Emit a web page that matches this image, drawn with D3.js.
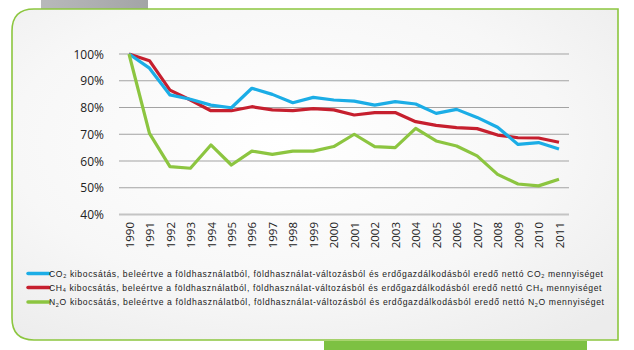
<!DOCTYPE html>
<html><head><meta charset="utf-8">
<script src="https://cdn.jsdelivr.net/npm/d3@7"></script>
<style>body{margin:0;background:#fff;}svg{display:block;}</style>
</head><body>
<svg id="c" width="634" height="350"></svg>
<script>
const years = ["1990","1991","1992","1993","1994","1995","1996","1997","1998","1999","2000","2001","2002","2003","2004","2005","2006","2007","2008","2009","2010","2011"];
const co2 = [100,94.7,84.7,83.1,80.9,79.9,87.2,84.9,81.8,83.8,82.8,82.4,80.9,82.2,81.3,77.8,79.3,76.3,72.6,66.2,66.9,64.5];
const ch4 = [100,97.5,86.5,82.8,78.8,78.8,80.3,79.1,78.8,79.6,79.1,77.2,78.1,78.1,74.7,73.3,72.5,72.1,69.7,68.7,68.6,67.0];
const n2o = [100,70.3,57.9,57.3,66.0,58.5,63.7,62.5,63.7,63.7,65.4,70.0,65.4,65.0,72.2,67.5,65.6,61.9,55.0,51.4,50.7,53.2];
const yTicks = [40,50,60,70,80,90,100];
const legendPre = ["CO","CH","N"];
const legendSub = ["2","4","2"];
const legendMid = ["","","O"];
const legendRest = " kibocsátás, beleértve a földhasználatból, földhasználat-változásból és erdőgazdálkodásból eredő nettó ";
const legendTail = " mennyiséget";
const colors = ["#1bade6","#c61f2e","#8cc540"];

const svg = d3.select("#c");
const defs = svg.append("defs");
const bg = defs.append("radialGradient").attr("id","bg").attr("cx","0.45").attr("cy","0.4").attr("r","0.75");
bg.append("stop").attr("offset","0").attr("stop-color","#ffffff");
bg.append("stop").attr("offset","0.6").attr("stop-color","#f7f7f7");
bg.append("stop").attr("offset","1").attr("stop-color","#ececec");
const tab = defs.append("linearGradient").attr("id","tab").attr("x1","0").attr("x2","1");
tab.append("stop").attr("offset","0").attr("stop-color","#b8b9bb");
tab.append("stop").attr("offset","1").attr("stop-color","#a3a4a6");

// gray tab
svg.append("rect").attr("x",41).attr("y",0).attr("width",107).attr("height",9).attr("fill","url(#tab)");
// bottom green bar
svg.append("rect").attr("x",324).attr("y",341).attr("width",263).attr("height",9).attr("fill","#7dc142");
// frame
const L=12,T=9,R=618,B=340,r=22;
const framePath = `M${R},${T} L${L+r},${T} Q${L},${T} ${L},${T+r} L${L},${B-r} Q${L},${B} ${L+r},${B} L${R},${B} Z`;
svg.append("path").attr("d",framePath).attr("fill","url(#bg)").attr("stroke","#8cc63f").attr("stroke-width",1.6);

const x = d3.scalePoint().domain(years).range([129,559]);
const y = d3.scaleLinear().domain([40,100]).range([214.5,54]);

// grid
const g = svg.append("g");
g.selectAll("line.grid").data(yTicks).join("line")
  .attr("x1",119).attr("x2",569)
  .attr("y1",d=>y(d)).attr("y2",d=>y(d))
  .attr("stroke",d=>d===40?"#c4c4c4":"#a3a3a3")
  .attr("stroke-width",d=>d===40?2:1);

// y labels
const yAxis = d3.axisLeft(y).tickValues(yTicks).tickSize(0).tickPadding(0).tickFormat(d=>d+"%");
const ya = svg.append("g").attr("transform","translate(104,0)").call(yAxis);
ya.select(".domain").remove();
ya.selectAll("text").attr("font-family","Open Sans").attr("font-size",12).attr("fill","#222").attr("dy","0.35em");

// x labels
const xAxis = d3.axisBottom(x).tickSize(0).tickPadding(0);
const xa = svg.append("g").attr("transform","translate(0,222)").call(xAxis);
xa.select(".domain").remove();
xa.selectAll("text").attr("font-family","Open Sans").attr("font-size",11.5).attr("fill","#222")
  .attr("transform","rotate(-90)").attr("text-anchor","end").attr("x",0).attr("y",0).attr("dy","0.36em");

// lines
const line = d3.line().x((d,i)=>x(years[i])).y(d=>y(d));
const series = [co2,ch4,n2o];
[1,0,2].forEach(k=>{
  svg.append("path").attr("d",line(series[k])).attr("fill","none")
    .attr("stroke",colors[k]).attr("stroke-width",3.2).attr("stroke-linejoin","round");
});

// legend
const ly = [273.5,287.5,302];
series.forEach((s,k)=>{
  svg.append("line").attr("x1",28).attr("x2",49).attr("y1",ly[k]).attr("y2",ly[k])
    .attr("stroke",colors[k]).attr("stroke-width",3.5).attr("stroke-linecap","round");
  const t = svg.append("text").attr("x",49).attr("y",ly[k]+3.3)
    .attr("font-family","Liberation Sans, Arial").attr("font-size",8.6).attr("fill","#1a1a1a")
    .attr("textLength",[554,552.5,555][k]).attr("lengthAdjust","spacing");
  t.append("tspan").text(legendPre[k]);
  t.append("tspan").attr("font-size",5.5).attr("dy",1.5).text(legendSub[k]);
  t.append("tspan").attr("dy",-1.5).text(legendMid[k]+legendRest+legendPre[k]);
  t.append("tspan").attr("font-size",5.5).attr("dy",1.5).text(legendSub[k]);
  t.append("tspan").attr("dy",-1.5).text(legendMid[k]+legendTail);
});
</script>
</body></html>
